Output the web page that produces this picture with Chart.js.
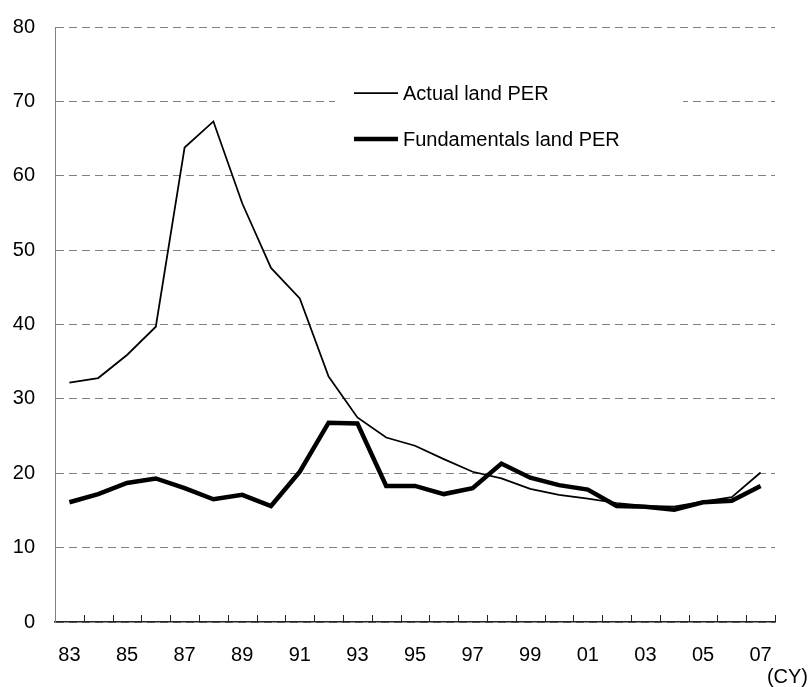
<!DOCTYPE html>
<html>
<head>
<meta charset="utf-8">
<script src="https://cdn.jsdelivr.net/npm/chart.js@4/dist/chart.umd.min.js"></script>
<style>
  html, body { margin: 0; padding: 0; background: #fff; }
  #wrap { width: 810px; height: 687px; }
</style>
</head>
<body>
<div id="wrap"><canvas id="chartCanvas"></canvas></div>
<script>
// calendar years 1983 - 2007
const years = ['83','84','85','86','87','88','89','90','91','92','93','94','95',
               '96','97','98','99','00','01','02','03','04','05','06','07'];

const actualPER = [32.2, 32.8, 35.9, 39.7, 63.8, 67.3, 56.3, 47.6, 43.5, 33.0, 27.5, 24.8, 23.7,
                   21.9, 20.2, 19.3, 17.9, 17.1, 16.6, 16.0, 15.6, 15.5, 16.2, 16.8, 20.1];

const fundamentalsPER = [16.1, 17.2, 18.7, 19.3, 18.0, 16.5, 17.1, 15.6, 20.2, 26.8, 26.7, 18.3, 18.3,
                         17.2, 18.0, 21.3, 19.4, 18.4, 17.8, 15.6, 15.5, 15.1, 16.1, 16.3, 18.3];

const seriesNames = ['Actual land PER', 'Fundamentals land PER'];
const yTicks = [0, 10, 20, 30, 40, 50, 60, 70, 80];

const FONT = 'Arial, "Liberation Sans", sans-serif';

// legend box sitting on top of the grid, like the original
const boxLegend = {
    id: 'boxLegend',
    beforeDatasetsDraw(chart) {
        const ctx = chart.ctx;
        ctx.save();
        ctx.fillStyle = '#fff';
        ctx.fillRect(335, 72, 348, 88);
        const widths = [1.75, 4.5];
        const rows = [93, 139];
        ctx.strokeStyle = '#000';
        ctx.fillStyle = '#000';
        ctx.font = '20px ' + FONT;
        ctx.textBaseline = 'middle';
        seriesNames.forEach((name, i) => {
            ctx.lineWidth = widths[i];
            ctx.beginPath();
            ctx.moveTo(354, rows[i]);
            ctx.lineTo(398, rows[i]);
            ctx.stroke();
            ctx.fillText(name, 403, rows[i] + 1);
        });
        ctx.restore();
    },
    afterDraw(chart) {
        const ctx = chart.ctx;
        const x = chart.scales.x;
        const area = chart.chartArea;
        ctx.save();
        // tick marks between the years, pointing up into the plot
        ctx.strokeStyle = '#222';
        ctx.lineWidth = 1;
        const step = (x.right - x.left) / years.length;
        for (let i = 1; i <= years.length; i++) {
            const px = Math.round(x.left + i * step) + 0.5;
            ctx.beginPath();
            ctx.moveTo(px, area.bottom);
            ctx.lineTo(px, area.bottom - 7);
            ctx.stroke();
        }
        ctx.fillStyle = '#000';
        ctx.font = '20px ' + FONT;
        ctx.textAlign = 'right';
        ctx.textBaseline = 'alphabetic';
        ctx.fillText('(CY)', 808, 683);
        ctx.restore();
    }
};

let chart = document.querySelector('#chartCanvas');

let graph = new Chart(chart, {
    type: 'line',
    data: {
        labels: years,
        datasets: [
            {
                label: seriesNames[0],
                data: actualPER,
                borderColor: '#000',
                borderWidth: 1.75,
                pointRadius: 0,
                tension: 0,
            },
            {
                label: seriesNames[1],
                data: fundamentalsPER,
                borderColor: '#000',
                borderWidth: 4.5,
                pointRadius: 0,
                tension: 0,
            },
        ],
    },
    options: {
        responsive: true,
        maintainAspectRatio: false,
        animation: false,
        layout: {
            padding: { top: 27, right: 35, left: 0, bottom: 0 }
        },
        plugins: {
            legend: { display: false },
            tooltip: { enabled: false },
            title: { display: false },
        },
        scales: {
            x: {
                offset: true,
                grid: {
                    offset: true,
                    drawOnChartArea: false,
                    drawTicks: false,
                },
                border: { display: true, color: '#222', width: 1.5 },
                ticks: {
                    autoSkip: false,
                    maxRotation: 0,
                    color: '#000',
                    font: { family: FONT, size: 20 },
                    padding: 21,
                    callback: function (value, index) {
                        return index % 2 === 0 ? years[index] : '';
                    }
                },
                afterFit: (scale) => {
                    scale.height = 65;
                    scale.paddingLeft = 0;
                    scale.paddingRight = 0;
                }
            },
            y: {
                min: 0,
                max: 80,
                afterBuildTicks: (scale) => {
                    scale.ticks = yTicks.map(v => ({ value: v }));
                },
                grid: {
                    drawTicks: false,
                    color: '#808080',
                    lineWidth: 1,
                },
                border: { display: true, color: '#808080', width: 1, dash: [8, 5] },
                ticks: {
                    color: '#000',
                    font: { family: FONT, size: 20 },
                    padding: 20,
                },
                afterFit: (scale) => {
                    scale.width = 55;
                    scale.paddingTop = 0;
                    scale.paddingBottom = 0;
                }
            }
        }
    },
    plugins: [boxLegend]
});
</script>
</body>
</html>
